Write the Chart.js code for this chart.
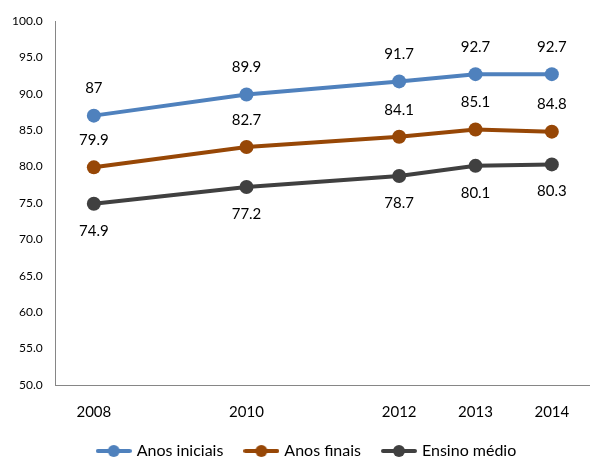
<!DOCTYPE html>
<html>
<head>
<meta charset="utf-8">
<script src="https://cdn.jsdelivr.net/npm/chart.js@4"></script>
<style>
  html, body { margin: 0; padding: 0; background: #fff; }
  #wrap { width: 590px; height: 459px; }
</style>
</head>
<body>
<div id="wrap"><canvas id="myChart"></canvas></div>
<script>
"use strict"

const years = [2008, 2010, 2012, 2013, 2014]
const anos_iniciais = [87, 89.9, 91.7, 92.7, 92.7]
const anos_finais = [79.9, 82.7, 84.1, 85.1, 84.8]
const ensino_medio = [74.9, 77.2, 78.7, 80.1, 80.3]
const series_names = ["Anos iniciais", "Anos finais", "Ensino médio"]

const colors = ["#4F81BD", "#974706", "#404040"]
const font_family = "Lato, 'Open Sans', sans-serif"

// legend marker: short line with a dot in the middle
function legend_marker(color){
  const c = document.createElement("canvas")
  c.width = 36
  c.height = 14
  const g = c.getContext("2d")
  g.strokeStyle = color
  g.lineWidth = 4
  g.lineCap = "round"
  g.beginPath()
  g.moveTo(2, 7)
  g.lineTo(34, 7)
  g.stroke()
  g.fillStyle = color
  g.beginPath()
  g.arc(18, 7, 6, 0, Math.PI * 2)
  g.fill()
  return c
}

function to_points(values){
  return values.map((v, i) => ({ x: years[i], y: v }))
}

// value labels, above for the first two series and below for the last
const value_labels = {
  id: "value_labels",
  afterDatasetsDraw(chart){
    const c = chart.ctx
    c.save()
    c.font = "15px " + font_family
    c.fillStyle = "#000"
    c.textAlign = "center"
    c.textBaseline = "middle"
    chart.data.datasets.forEach((ds, di) => {
      const meta = chart.getDatasetMeta(di)
      meta.data.forEach((pt, i) => {
        const off = di === 2 ? 27 : -27
        c.fillText(String(ds.data[i].y), pt.x, pt.y + off)
      })
    })
    c.restore()
  }
}

// nudge the legend a bit to the right, like the original
const legend_shift = {
  id: "legend_shift",
  afterLayout(chart){
    if(chart.legend){
      chart.legend.left += 13
      chart.legend.right += 13
    }
  }
}

const datasets = [anos_iniciais, anos_finais, ensino_medio].map((vals, i) => ({
  label: series_names[i],
  data: to_points(vals),
  borderColor: colors[i],
  backgroundColor: colors[i],
  borderWidth: 4,
  pointRadius: 7,
  pointHoverRadius: 7,
  pointBorderWidth: 0,
  pointStyle: "circle",
  tension: 0
}))

const markers = colors.map(legend_marker)

const ctx = document.getElementById("myChart")

let graph = new Chart(ctx, {
  type: "line",
  data: { datasets: datasets },
  options: {
    responsive: true,
    maintainAspectRatio: false,
    animation: false,
    layout: { autoPadding: false, padding: { top: 21, right: 0, left: -1, bottom: -10 } },
    scales: {
      x: {
        type: "linear",
        min: 2007.5,
        max: 2014.5,
        afterBuildTicks: (axis) => {
          axis.ticks = years.map(v => ({ value: v }))
        },
        afterFit: (axis) => {
          axis.paddingLeft = 0
          axis.paddingRight = 0
          axis.height = axis.height - 19
        },
        grid: { display: false, drawTicks: false },
        border: { display: true, color: "#868686", width: 1 },
        ticks: {
          color: "#000",
          padding: 18,
          font: { size: 15, family: font_family },
          callback: (v) => String(v),
          maxRotation: 0
        }
      },
      y: {
        min: 50,
        max: 100,
        grid: { display: false, drawTicks: false },
        border: { display: true, color: "#868686", width: 1 },
        ticks: {
          stepSize: 5,
          color: "#000",
          padding: 13,
          font: { size: 12, family: font_family },
          callback: (v) => v.toFixed(1)
        }
      }
    },
    plugins: {
      tooltip: { enabled: false },
      legend: {
        position: "bottom",
        labels: {
          usePointStyle: true,
          pointStyleWidth: 30,
          padding: 23,
          color: "#000",
          font: { size: 16, family: font_family },
          generateLabels: (chart) => chart.data.datasets.map((ds, i) => ({
            text: ds.label,
            pointStyle: markers[i],
            fillStyle: colors[i],
            strokeStyle: colors[i],
            lineWidth: 0,
            hidden: false,
            datasetIndex: i
          }))
        }
      }
    }
  },
  plugins: [value_labels, legend_shift]
})
</script>
</body>
</html>
